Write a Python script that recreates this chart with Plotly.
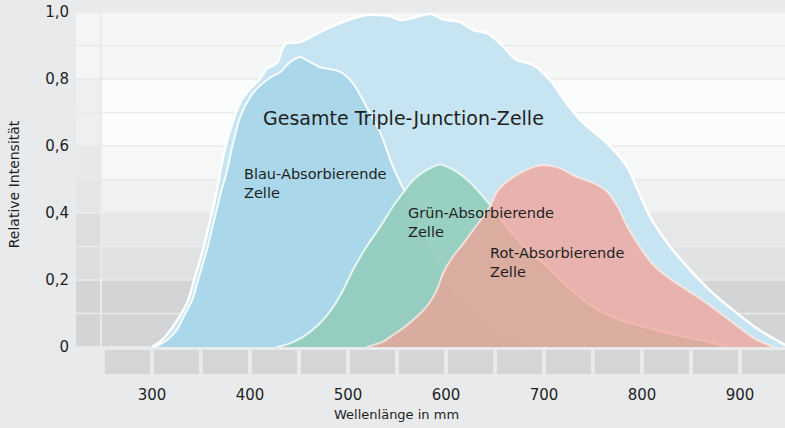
import plotly.graph_objects as go

# ---------------- data ----------------
total_wl = [300, 310, 320, 330, 337, 342, 347, 352, 357, 362, 367, 372, 380, 390, 400, 410,
            417, 428, 433, 436, 451, 471, 492, 510, 519, 543, 553, 566, 584, 597, 614, 628,
            642, 655, 672, 689, 706, 723, 740, 764, 785, 791, 808, 826, 846, 869, 893, 920, 950]
total_int = [0, 0.02, 0.055, 0.10, 0.14, 0.19, 0.24, 0.29, 0.35, 0.41, 0.48, 0.56, 0.65, 0.73, 0.77, 0.80,
             0.83, 0.85, 0.89, 0.905, 0.91, 0.94, 0.967, 0.985, 0.991, 0.988, 0.976, 0.982, 0.995, 0.978, 0.97, 0.946,
             0.937, 0.907, 0.857, 0.842, 0.797, 0.728, 0.669, 0.609, 0.537, 0.50, 0.39, 0.31, 0.24, 0.17, 0.11, 0.05, 0]

blue_wl = [303, 315, 325, 334, 341, 346, 351, 356, 361, 366, 371, 376, 382, 390, 403, 420,
           431, 441, 451, 461, 471, 492, 505, 519, 533, 546, 558, 576, 597, 614, 645, 675, 703]
blue_int = [0, 0.02, 0.05, 0.10, 0.14, 0.19, 0.24, 0.29, 0.35, 0.41, 0.47, 0.52, 0.60, 0.687, 0.758, 0.803,
            0.821, 0.851, 0.866, 0.851, 0.836, 0.821, 0.788, 0.716, 0.639, 0.537, 0.463, 0.35, 0.22, 0.14, 0.06, 0.02, 0]

green_wl = [427, 440, 454, 471, 485, 495, 505, 519, 533, 546, 556, 567, 580, 594, 610, 625,
            645, 662, 683, 703, 724, 750, 778, 800, 825, 860, 888]
green_int = [0, 0.01, 0.03, 0.07, 0.12, 0.17, 0.23, 0.30, 0.36, 0.42, 0.46, 0.50, 0.528, 0.545, 0.525, 0.49,
             0.424, 0.358, 0.29, 0.24, 0.18, 0.12, 0.08, 0.062, 0.042, 0.02, 0]

red_wl = [519, 535, 546, 558, 570, 580, 587, 592, 597, 607, 618, 628, 645, 652, 665, 686,
          699, 716, 734, 750, 764, 775, 785, 800, 810, 826, 846, 866, 893, 917, 935]
red_int = [0, 0.015, 0.036, 0.06, 0.09, 0.12, 0.15, 0.18, 0.22, 0.27, 0.31, 0.35, 0.42, 0.464, 0.50, 0.534,
           0.543, 0.534, 0.507, 0.49, 0.465, 0.42, 0.36, 0.29, 0.25, 0.209, 0.17, 0.131, 0.072, 0.021, 0]

x_ticks = [300, 400, 500, 600, 700, 800, 900]
y_ticks = [0, 0.2, 0.4, 0.6, 0.8, 1.0]
y_tick_labels = ["0", "0,2", "0,4", "0,6", "0,8", "1,0"]

band_edges = [0, 0.1, 0.2, 0.3, 0.4, 0.5, 0.6, 0.7, 0.8, 0.9, 1.0]
box_starts = [250, 300, 350, 400, 450, 500, 550, 600, 650, 700, 750, 800, 850, 900]

# ---------------- styles ----------------
BG = "#e9eaec"
FONT = "DejaVu Sans"
TXT = "#1f1f1f"
left_band_colors = ["#d3d4d5", "#d3d4d5", "#dcdddf", "#dcdddf", "#e4e5e6",
                    "#e7e8e9", "#eeeff0", "#eeeff0", "#f4f5f5", "#f4f5f5"]
main_band_colors = ["#d3d4d6", "#d3d4d6", "#e1e2e3", "#e6e7e8", "#f0f1f1",
                    "#f6f7f7", "#fbfcfc", "#fbfcfc", "#f5f6f6", "#f5f6f6"]

X0, X1 = 222.45, 945.9
Y0, Y1 = -0.0806, 1.0

fig = go.Figure()

series = [
    (total_wl, total_int, "#c6e4f2", "#ffffff", 2.5),
    (blue_wl, blue_int, "#aad7ea", "rgba(255,255,255,0.9)", 2),
    (green_wl, green_int, "rgba(146,205,188,0.9)", "rgba(235,248,244,0.95)", 2),
    (red_wl, red_int, "rgba(247,158,145,0.7)", "rgba(255,236,232,0.75)", 2),
]
for xs, ys, fillc, linec, lw in series:
    fig.add_trace(go.Scatter(
        x=xs, y=ys, mode="lines", fill="tozeroy", fillcolor=fillc,
        line=dict(color=linec, width=lw, shape="spline", smoothing=0.8),
        hoverinfo="skip", showlegend=False))

shapes = []
g = 0.0026
for i in range(len(band_edges) - 1):
    y0 = band_edges[i] + g
    y1 = band_edges[i + 1] - g
    shapes.append(dict(type="rect", xref="x", yref="y", x0=X0, x1=247, y0=y0, y1=y1,
                       fillcolor=left_band_colors[i], line=dict(width=0), layer="below"))
    shapes.append(dict(type="rect", xref="x", yref="y", x0=249, x1=X1 + 5, y0=y0, y1=y1,
                       fillcolor=main_band_colors[i], line=dict(width=0), layer="below"))
for b in box_starts:
    shapes.append(dict(type="rect", xref="x", yref="y", x0=b + 2, x1=b + 48, y0=Y0, y1=-0.009,
                       fillcolor="#d4d5d6", line=dict(width=0), layer="below"))

annotations = [
    dict(x=411, y=0.684, text="Gesamte Triple-Junction-Zelle", font=dict(size=19)),
    dict(x=392, y=0.488, text="Blau-Absorbierende<br>Zelle", font=dict(size=14.5)),
    dict(x=559, y=0.372, text="Grün-Absorbierende<br>Zelle", font=dict(size=14.5)),
    dict(x=643, y=0.252, text="Rot-Absorbierende<br>Zelle", font=dict(size=14.5)),
]
for a in annotations:
    a.update(xref="x", yref="y", xanchor="left", yanchor="middle", align="left",
             showarrow=False)
    a["font"].update(family=FONT, color=TXT)

annotations.append(dict(xref="paper", yref="paper", x=-0.087, y=0.525,
                        text="Relative Intensität", textangle=-90, showarrow=False,
                        xanchor="center", yanchor="middle",
                        font=dict(family=FONT, size=14, color=TXT)))
annotations.append(dict(xref="x", yref="paper", x=549, y=-0.113,
                        text="Wellenlänge in mm", showarrow=False,
                        xanchor="center", yanchor="middle",
                        font=dict(family=FONT, size=13, color=TXT)))

fig.update_layout(
    width=785, height=428,
    margin=dict(l=76, r=0, t=12, b=54),
    paper_bgcolor=BG, plot_bgcolor=BG,
    shapes=shapes, annotations=annotations,
    font=dict(family=FONT, color=TXT),
    xaxis=dict(range=[X0, X1], showgrid=False, zeroline=False, showline=False,
               tickvals=x_ticks, ticktext=[str(v) for v in x_ticks], ticks="",
               ticklabelstandoff=10, tickfont=dict(family=FONT, size=15, color=TXT),
               fixedrange=True),
    yaxis=dict(range=[Y0, Y1], showgrid=False, zeroline=False, showline=False,
               tickvals=y_ticks, ticktext=y_tick_labels, ticks="",
               ticklabelstandoff=6, tickfont=dict(family=FONT, size=15, color=TXT),
               fixedrange=True),
)

fig.write_html("out.html", config={"displayModeBar": False})

# remove the default page margin so the figure sits at the top-left corner
with open("out.html", encoding="utf-8") as f:
    html = f.read()
html = html.replace("<head>", "<head><style>html,body{margin:0;padding:0;background:#e9eaec;overflow:hidden;}</style>", 1)
with open("out.html", "w", encoding="utf-8") as f:
    f.write(html)
